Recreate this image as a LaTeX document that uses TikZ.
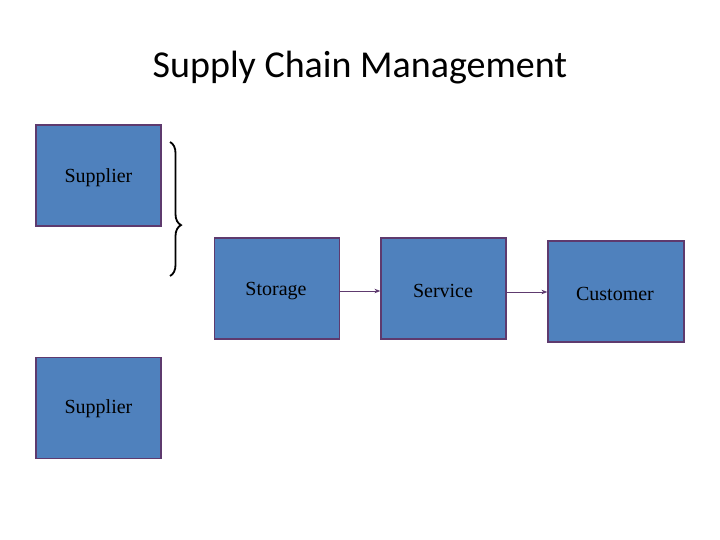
\documentclass[tikz,border=0pt]{standalone}
\usepackage{fontspec}
\setmainfont{Liberation Serif}
\newfontfamily\titlefont{Carlito}
\usetikzlibrary{decorations.pathreplacing,arrows.meta}
\definecolor{boxfill}{HTML}{4F81BD}
\definecolor{boxline}{HTML}{5E3A6E}
\begin{document}
\begin{tikzpicture}[x=1pt,y=-1pt,
  box/.style={draw=boxline,line width=1.2pt,fill=boxfill,minimum width=125pt,minimum height=101pt,inner sep=0pt},
  lbl/.style={font=\fontsize{20}{24}\selectfont},
  arr/.style={draw=boxline,line width=1pt,-{Stealth[length=6pt]}}]
\useasboundingbox (0,0) rectangle (720,540);
\node[font=\titlefont\fontsize{38}{44}\selectfont] (title) at (360,68) {Supply Chain Management};
\node[box] (s1) at (98.5,175.5) {};
\node[lbl] at (98.5,178) {Supplier};
\node[box] (s2) at (98.5,408) {};
\node[lbl] at (98.5,409) {Supplier};
\node[box] (st) at (277,288.5) {};
\node[lbl] at (276,291) {Storage};
\node[box] (sv) at (443.5,288.5) {};
\node[lbl] at (443,291) {Service};
\node[box,minimum width=136pt] (cu) at (616,291.5) {};
\node[lbl] at (615,294) {Customer};
\coordinate (b1) at (170,142);
\coordinate (b2) at (170,276);
\draw[line width=1.8pt,decorate,decoration={brace,amplitude=11pt,aspect=0.62}] (b1) -- (b2);
\draw[arr] (st.east |- 0,291) -- (sv.west |- 0,291);
\draw[arr] (sv.east |- 0,292) -- (cu.west |- 0,292);
\end{tikzpicture}
\end{document}
